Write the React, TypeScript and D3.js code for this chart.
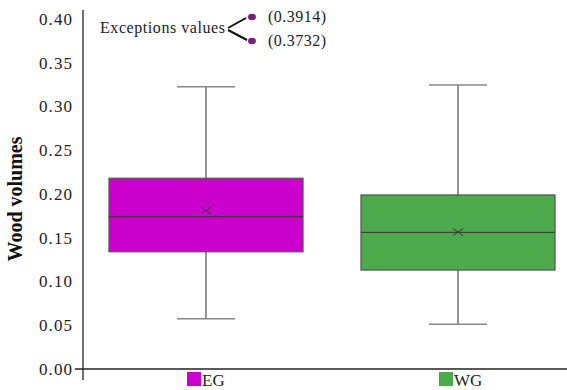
import { useEffect, useRef } from "react";
import * as d3 from "d3";

const groups = ["EG", "WG"];
const colors = ["#cc00cc", "#4caa4c"];
const mins = [0.0575, 0.0511];
const q1s = [0.134, 0.1131];
const medians = [0.174, 0.1562];
const q3s = [0.218, 0.1989];
const maxs = [0.3226, 0.3246];
const means = [0.1811, 0.1565];
const yTicks = [0, 0.05, 0.1, 0.15, 0.2, 0.25, 0.3, 0.35, 0.4];
const exceptions = [0.3914, 0.3732];

const W = 567;
const H = 390;
const FONT = "Liberation Serif, Tinos, DejaVu Serif, serif";

export default function App() {
  const ref = useRef<SVGSVGElement>(null);

  useEffect(() => {
    const svg = d3.select(ref.current);
    svg.selectAll("*").remove();

    const y = d3.scaleLinear().domain([0, 0.4]).range([369, 19]);
    const x = d3.scaleBand().domain(groups).range([80, 584]).padding(0);
    const bw = x.bandwidth();
    const boxW = bw * 0.77;
    const capW = bw * 0.23;
    const x0 = 83;

    // axes
    svg.append("line")
      .attr("x1", x0).attr("x2", x0).attr("y1", 10).attr("y2", 380)
      .attr("stroke", "#222").attr("stroke-width", 1.3);
    svg.append("line")
      .attr("x1", x0 - 8).attr("x2", W).attr("y1", y(0)).attr("y2", y(0))
      .attr("stroke", "#222").attr("stroke-width", 1.3);

    svg.selectAll(".ytick")
      .data(yTicks)
      .join("text")
      .attr("class", "ytick")
      .attr("x", 72)
      .attr("y", d => y(d))
      .attr("dy", "0.35em")
      .attr("text-anchor", "end")
      .style("font-family", FONT)
      .attr("font-size", 17)
      .attr("textLength", 33)
      .attr("fill", "#222")
      .text(d => d3.format(".2f")(d));

    svg.append("text")
      .attr("transform", `translate(22, 199) rotate(-90)`)
      .attr("text-anchor", "middle")
      .style("font-family", FONT)
      .attr("font-size", 20)
      .attr("font-weight", "bold")
      .attr("fill", "#111")
      .text("Wood volumes");

    groups.forEach((name, i) => {
      const cx = (x(name) as number) + bw / 2;
      const grp = svg.append("g");
      // whiskers
      grp.append("line")
        .attr("x1", cx).attr("x2", cx).attr("y1", y(maxs[i])).attr("y2", y(q3s[i]))
        .attr("stroke", "#666").attr("stroke-width", 1.4);
      grp.append("line")
        .attr("x1", cx).attr("x2", cx).attr("y1", y(q1s[i])).attr("y2", y(mins[i]))
        .attr("stroke", "#666").attr("stroke-width", 1.4);
      [maxs[i], mins[i]].forEach(v => {
        grp.append("line")
          .attr("x1", cx - capW / 2).attr("x2", cx + capW / 2)
          .attr("y1", y(v)).attr("y2", y(v))
          .attr("stroke", "#888").attr("stroke-width", 1.6);
      });
      grp.append("rect")
        .attr("x", cx - boxW / 2)
        .attr("width", boxW)
        .attr("y", y(q3s[i]))
        .attr("height", y(q1s[i]) - y(q3s[i]))
        .attr("fill", colors[i])
        .attr("stroke", "#555")
        .attr("stroke-width", 1.2);
      grp.append("line")
        .attr("x1", cx - boxW / 2).attr("x2", cx + boxW / 2)
        .attr("y1", y(medians[i])).attr("y2", y(medians[i]))
        .attr("stroke", "#333").attr("stroke-width", 1);
      const my = y(means[i]);
      const s = 5;
      grp.append("path")
        .attr("d", `M${cx - s},${my - s * 0.7}L${cx + s},${my + s * 0.7}M${cx - s},${my + s * 0.7}L${cx + s},${my - s * 0.7}`)
        .attr("stroke", "#333").attr("stroke-width", 1).attr("fill", "none");

      // legend label under axis
      grp.append("rect")
        .attr("x", cx - 19).attr("y", 372)
        .attr("width", 14).attr("height", 14)
        .attr("fill", colors[i]);
      grp.append("text")
        .attr("x", cx - 4).attr("y", 386)
        .style("font-family", FONT)
        .attr("font-size", 17)
        .attr("fill", "#222")
        .text(name);
    });

    // exceptions annotation
    const ann = svg.append("g");
    ann.append("text")
      .attr("x", 100).attr("y", 33)
      .style("font-family", FONT)
      .attr("font-size", 16)
      .attr("textLength", 125)
      .attr("fill", "#222")
      .text("Exceptions values");
    ann.append("path")
      .attr("d", "M228,28L246,18M228,30L247,40")
      .attr("stroke", "#111").attr("stroke-width", 2).attr("fill", "none");
    const ay = [17, 41];
    exceptions.forEach((v, i) => {
      ann.append("ellipse")
        .attr("cx", 252).attr("cy", ay[i])
        .attr("rx", 4).attr("ry", 3.2)
        .attr("fill", "#7a1f7a");
      ann.append("text")
        .attr("x", 268).attr("y", ay[i] + 5)
        .style("font-family", FONT)
        .attr("font-size", 16)
        .attr("textLength", 58)
        .attr("fill", "#222")
        .text(`(${v.toFixed(4)})`);
    });
  }, []);

  return (
    <svg
      ref={ref}
      width={W}
      height={H}
      style={{ position: "absolute", left: 0, top: 0, background: "#fff" }}
    />
  );
}
